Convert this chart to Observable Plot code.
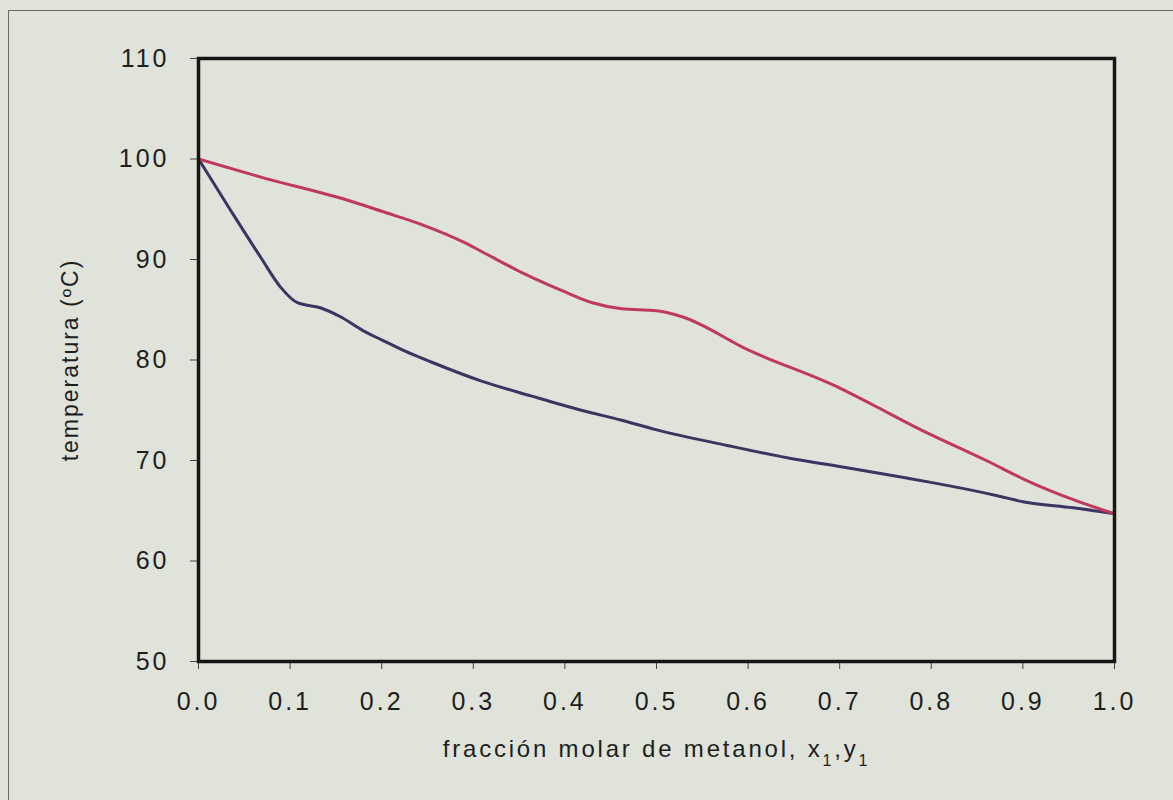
<!DOCTYPE html>
<html><head><meta charset="utf-8">
<script src="https://cdn.jsdelivr.net/npm/d3@7"></script>
<script src="https://cdn.jsdelivr.net/npm/@observablehq/plot@0.6"></script>
<style>
html,body{margin:0;padding:0;background:#dfe3da;overflow:hidden;width:1173px;height:800px}
#frame{position:absolute;left:8px;top:10px;width:1300px;height:900px;border:1.5px solid #6c6c68;box-sizing:border-box;pointer-events:none}
#chart{position:absolute;left:0;top:0}
#chart svg g[aria-label$="tick label"] text{letter-spacing:3px}
</style></head><body>
<div id="frame"></div><div id="chart"></div>
<script>
// Liquid (x1) curve — navy
const liquidX = [0, 0.035, 0.068, 0.09, 0.108, 0.133, 0.155, 0.18, 0.2, 0.225, 0.254, 0.309, 0.364, 0.418, 0.462, 0.498, 0.577, 0.653, 0.700, 0.770, 0.801, 0.872, 0.900, 0.955, 1.0];
const liquidT = [100, 94.9, 90.2, 87.2, 85.7, 85.2, 84.3, 82.9, 82.0, 80.9, 79.8, 77.9, 76.4, 75.0, 74.0, 73.1, 71.5, 70.1, 69.4, 68.3, 67.8, 66.5, 65.9, 65.3, 64.7];
// Vapour (y1) curve — red
const vaporX = [0, 0.068, 0.17, 0.2, 0.243, 0.29, 0.309, 0.353, 0.397, 0.43, 0.462, 0.5, 0.528, 0.6, 0.698, 0.739, 0.781, 0.86, 0.909, 0.955, 1.0];
const vaporT = [100, 98.2, 95.7, 94.8, 93.5, 91.7, 90.8, 88.7, 86.9, 85.7, 85.1, 84.9, 84.3, 81.0, 77.3, 75.4, 73.4, 70.0, 67.8, 66.1, 64.7];
const xTicks = [0, 0.1, 0.2, 0.3, 0.4, 0.5, 0.6, 0.7, 0.8, 0.9, 1.0];
const yTicks = [50, 60, 70, 80, 90, 100, 110];
const xLabel = "fracción molar de metanol, x1,y1";
const yLabel = "temperatura (ºC)";

const liquid = liquidX.map((x, i) => ({x, t: liquidT[i]}));
const vapor = vaporX.map((x, i) => ({x, t: vaporT[i]}));

const chart = Plot.plot({
  width: 1173, height: 800,
  marginLeft: 198, marginRight: 59, marginTop: 58, marginBottom: 139,
  style: {background: "transparent", fontFamily: "'Liberation Sans', Arial, sans-serif", fontSize: "25px", color: "#1e1e1e", overflow: "visible"},
  x: {domain: [0, 1]},
  y: {domain: [50, 110]},
  marks: [
    Plot.axisX({ticks: xTicks, tickFormat: d3.format(".1f"), tickSize: 8, tickPadding: 23, fontSize: 25, label: xLabel, labelAnchor: "center", labelOffset: 95, labelArrow: "none", stroke: "#444"}),
    Plot.axisY({ticks: yTicks, tickSize: 8, tickPadding: 21, fontSize: 25, label: yLabel, labelAnchor: "center", labelOffset: 137, labelArrow: "none", stroke: "#444"}),
    Plot.line(liquid, {x: "x", y: "t", stroke: "#3a3561", strokeWidth: 3, curve: "monotone-x"}),
    Plot.line(vapor, {x: "x", y: "t", stroke: "#c0395c", strokeWidth: 3, curve: "monotone-x"}),
    Plot.frame({stroke: "#161616", strokeWidth: 3.5})
  ]
});
document.getElementById("chart").appendChild(chart);

// style axis titles
const svg = d3.select(chart);
svg.selectAll('g[aria-label="x-axis label"] text').each(function() {
  const t = d3.select(this);
  t.style("font-size", "24px").style("letter-spacing", "2.8px");
  t.text(null);
  t.append("tspan").text("fracción molar de metanol, x");
  t.append("tspan").attr("baseline-shift", "sub").style("font-size", "16px").text("1");
  t.append("tspan").text(",y");
  t.append("tspan").attr("baseline-shift", "sub").style("font-size", "16px").text("1");
});
svg.selectAll('g[aria-label="y-axis label"] text').style("font-size", "23px").style("letter-spacing", "2px");
</script>
</body></html>
